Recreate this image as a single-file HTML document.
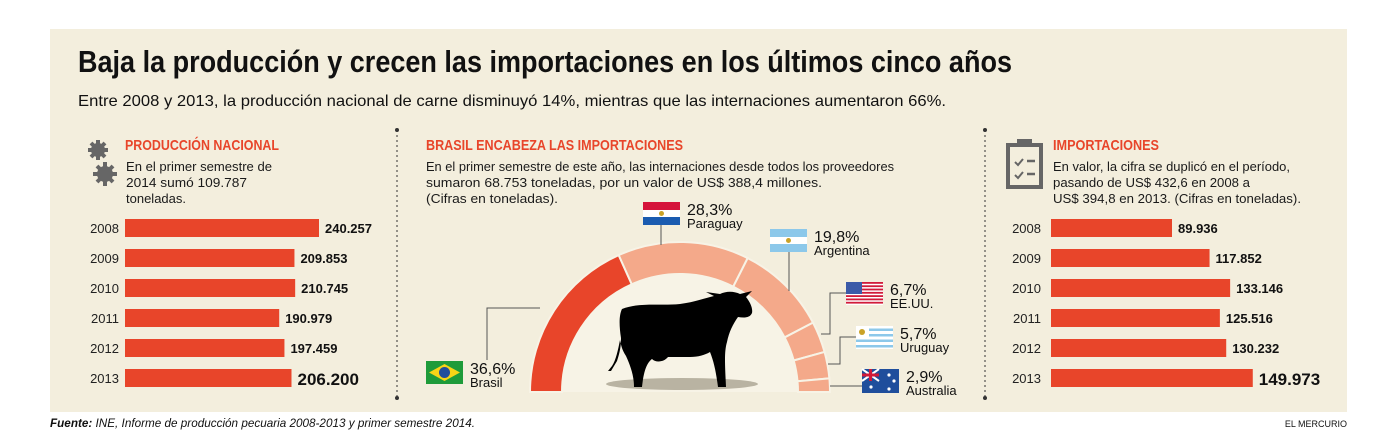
<!DOCTYPE html>
<html><head><meta charset="utf-8">
<style>
html,body{margin:0;padding:0;background:#fff;overflow:hidden;}
svg{display:block;font-family:"Liberation Sans",sans-serif;}
.t{fill:#1a1a1a;}
</style></head>
<body>
<svg id="chart" width="1400" height="444" viewBox="0 0 1400 444" xmlns="http://www.w3.org/2000/svg">
<rect x="50" y="29" width="1297" height="383" fill="#f3eedd"/>
<text x="78" y="72" font-size="31" font-weight="bold" textLength="934" lengthAdjust="spacingAndGlyphs" fill="#111">Baja la producción y crecen las importaciones en los últimos cinco años</text>
<text x="78" y="106" font-size="16" textLength="868" lengthAdjust="spacingAndGlyphs" fill="#111">Entre 2008 y 2013, la producción nacional de carne disminuyó 14%, mientras que las internaciones aumentaron 66%.</text>

<line x1="397" y1="130" x2="397" y2="398" stroke="#333" stroke-dasharray="2,3"/>
<circle cx="397" cy="130" r="2" fill="#333"/><circle cx="397" cy="398" r="2" fill="#333"/>
<line x1="985" y1="130" x2="985" y2="398" stroke="#333" stroke-dasharray="2,3"/>
<circle cx="985" cy="130" r="2" fill="#333"/><circle cx="985" cy="398" r="2" fill="#333"/>

<g fill="#666">
<circle cx="98" cy="150" r="7"/><circle cx="98" cy="150" r="3" fill="#f3eedd"/>
<g stroke="#666" stroke-width="4"><line x1="98" y1="140" x2="98" y2="160"/><line x1="88" y1="150" x2="108" y2="150"/><line x1="91" y1="143" x2="105" y2="157"/><line x1="105" y1="143" x2="91" y2="157"/></g>
<circle cx="105" cy="174" r="8"/><circle cx="105" cy="174" r="3.5" fill="#f3eedd"/>
<g stroke="#666" stroke-width="4"><line x1="105" y1="162" x2="105" y2="186"/><line x1="93" y1="174" x2="117" y2="174"/><line x1="97" y1="166" x2="113" y2="182"/><line x1="113" y1="166" x2="97" y2="182"/></g>
</g>
<text x="125" y="150" font-size="15" font-weight="bold" fill="#e8452a" textLength="154" lengthAdjust="spacingAndGlyphs">PRODUCCIÓN NACIONAL</text>
<g font-size="13" class="t">
<text x="126" y="171" textLength="146" lengthAdjust="spacingAndGlyphs">En el primer semestre de</text>
<text x="126" y="187" textLength="121" lengthAdjust="spacingAndGlyphs">2014 sumó 109.787</text>
<text x="126" y="203">toneladas.</text>
</g>

<text x="426" y="150" font-size="15" font-weight="bold" fill="#e8452a" textLength="257" lengthAdjust="spacingAndGlyphs">BRASIL ENCABEZA LAS IMPORTACIONES</text>
<g font-size="13" class="t">
<text x="426" y="171" textLength="468" lengthAdjust="spacingAndGlyphs">En el primer semestre de este año, las internaciones desde todos los proveedores</text>
<text x="426" y="187" textLength="396" lengthAdjust="spacingAndGlyphs">sumaron 68.753 toneladas, por un valor de US$ 388,4 millones.</text>
<text x="426" y="203" textLength="132" lengthAdjust="spacingAndGlyphs">(Cifras en toneladas).</text>
</g>

<g fill="none" stroke="#666">
<rect x="1008" y="145" width="33" height="42" stroke-width="4"/>
<rect x="1017" y="139" width="15" height="7" fill="#666" stroke="none"/>
<path d="M1015 162 l3 3 l5 -6 M1015 175 l3 3 l5 -6" stroke-width="2"/>
<path d="M1027 161 h8 M1027 174 h8" stroke-width="2.5"/>
</g>
<text x="1053" y="150" font-size="15" font-weight="bold" fill="#e8452a" textLength="106" lengthAdjust="spacingAndGlyphs">IMPORTACIONES</text>
<g font-size="13" class="t">
<text x="1053" y="171" textLength="237" lengthAdjust="spacingAndGlyphs">En valor, la cifra se duplicó en el período,</text>
<text x="1053" y="187" textLength="197" lengthAdjust="spacingAndGlyphs">pasando de US$ 432,6 en 2008 a</text>
<text x="1053" y="203" textLength="248" lengthAdjust="spacingAndGlyphs">US$ 394,8 en 2013. (Cifras en toneladas).</text>
</g>

<g id="leftBars"></g>
<g id="rightBars"></g>

<path d="M562 392 A118 118 0 0 1 798 392 Z" fill="#f7f3e6"/>
<g id="arc"></g>
<ellipse cx="682" cy="384" rx="76" ry="6" fill="#b9b3a2"/>
<path fill="#000" d="M622 309 C640 302 660 306 680 304 C695 302 705 298 714 296 L706 292 L720 294 C726 291 734 291 740 294 L752 291 L746 297 C750 302 753 308 752 313 C750 318 744 318 738 317 C733 324 729 332 727 342 C724 352 725 365 726 387 L718 387 C716 372 714 362 710 352 C705 355 698 357 690 357 L668 357 C664 362 656 363 652 359 C648 362 644 368 642 387 L634 387 C634 375 630 365 626 356 C622 350 621 345 620 340 C618 350 616 360 612 366 L608 371 L611 371 L617 361 C620 352 621 346 621 338 C619 325 619 315 622 309 Z"/>

<g id="labels" font-size="13" class="t"></g>

<text x="50" y="427" font-size="12" font-style="italic" fill="#111" textLength="425" lengthAdjust="spacingAndGlyphs"><tspan font-weight="bold">Fuente:</tspan> INE, Informe de producción pecuaria 2008-2013 y primer semestre 2014.</text>
<text x="1347" y="427" font-size="9" text-anchor="end" fill="#111">EL MERCURIO</text>
</svg>
<script>
const years = ["2008","2009","2010","2011","2012","2013"];
const productionValues = [240257, 209853, 210745, 190979, 197459, 206200];
const productionLabels = ["240.257","209.853","210.745","190.979","197.459","206.200"];
const importValues = [89936, 117852, 133146, 125516, 130232, 149973];
const importLabels = ["89.936","117.852","133.146","125.516","130.232","149.973"];
const countries = ["Brasil","Paraguay","Argentina","EE.UU.","Uruguay","Australia"];
const shares = [36.6, 28.3, 19.8, 6.7, 5.7, 2.9];
const shareLabels = ["36,6%","28,3%","19,8%","6,7%","5,7%","2,9%"];

const NS = "http://www.w3.org/2000/svg";
function mk(tag, attrs, parent){const e=document.createElementNS(NS,tag);for(const k in attrs)e.setAttribute(k,attrs[k]);parent.appendChild(e);return e;}

function drawBars(gid, values, labels, x0, scale, yearX){
  const g=document.getElementById(gid);
  const yPos=i=>219+i*30;
  values.forEach((v,i)=>{
    const w=v*scale, y=yPos(i), last=i===values.length-1;
    const yt=mk('text',{x:yearX,y:y+14,'font-size':13,'text-anchor':'end',fill:'#222'},g);
    yt.textContent=years[i];
    
    
    const r=mk('rect',{x:x0,y:y,width:w,height:18,fill:'#e8452a'},g);
    
    
    const t=mk('text',{x:x0+w+6,y:y+(last?16:14),'font-size':last?17:13,'font-weight':'bold',fill:'#111'},g);
    t.textContent=labels[i];
    
    
  });
}
drawBars('leftBars', productionValues, productionLabels, 125, 194/240257, 119);
drawBars('rightBars', importValues, importLabels, 1051, 121/89936, 1041);

const cx=680, cy=392, R=150, r=118;
const total=shares.reduce((a,b)=>a+b,0);
const arcG=document.getElementById('arc');
let a0=Math.PI;
function pt(rad,a){return [cx+rad*Math.cos(a), cy-rad*Math.sin(a)];}
shares.forEach((s,i)=>{
  const a1=a0-s/total*Math.PI;
  const p1=pt(R,a0),p2=pt(R,a1),p3=pt(r,a1),p4=pt(r,a0);
  const d=`M${p1} A${R},${R} 0 0 1 ${p2} L${p3} A${r},${r} 0 0 0 ${p4} Z`;
  const p=mk('path',{d:d,fill:i===0?'#e8452a':'#f4a98a',stroke:'#f7f3e6','stroke-width':2},arcG);
  
  
  a0=a1;
});

const lg=document.getElementById('labels');
const flagPos=[[426,361],[643,202],[770,229],[846,282],[856,326],[862,369]];
function flag(i,x,y){
  const g=mk('g',{},lg);
  
  
  const w=37,h=23;
  if(i===0){mk('rect',{x,y,width:w,height:h,fill:'#1e9b3a'},g);mk('path',{d:`M${x+18.5} ${y+3} L${x+34} ${y+11.5} L${x+18.5} ${y+20} L${x+3} ${y+11.5}Z`,fill:'#f7d417'},g);mk('circle',{cx:x+18.5,cy:y+11.5,r:5.5,fill:'#1f4e9c'},g);}
  else if(i===1){mk('rect',{x,y,width:w,height:8,fill:'#d5133a'},g);mk('rect',{x,y:y+8,width:w,height:7,fill:'#fff'},g);mk('rect',{x,y:y+15,width:w,height:8,fill:'#1a5bb0'},g);mk('circle',{cx:x+18.5,cy:y+11.5,r:2.5,fill:'#c9a227'},g);}
  else if(i===2){mk('rect',{x,y,width:w,height:h,fill:'#8cc8ea'},g);mk('rect',{x,y:y+8,width:w,height:7,fill:'#fff'},g);mk('circle',{cx:x+18.5,cy:y+11.5,r:2.5,fill:'#c9a227'},g);}
  else if(i===3){mk('rect',{x,y,width:w,height:h,fill:'#fff'},g);for(let k=0;k<7;k++)mk('rect',{x,y:y+k*3.3,width:w,height:1.8,fill:'#d11b3a'},g);mk('rect',{x,y,width:16,height:12,fill:'#3b5aa8'},g);}
  else if(i===4){mk('rect',{x,y,width:w,height:h,fill:'#fff'},g);for(let k=0;k<4;k++)mk('rect',{x,y:y+2.5+k*5.5,width:w,height:2.5,fill:'#8cc8ea'},g);mk('rect',{x,y,width:13,height:12,fill:'#fff'},g);mk('circle',{cx:x+6,cy:y+6,r:3,fill:'#c9a227'},g);}
  else {mk('rect',{x,y,width:w,height:h+1,fill:'#1f4e9c'},g);mk('path',{d:`M${x} ${y} L${x+17} ${y+12} M${x+17} ${y} L${x} ${y+12}`,stroke:'#fff','stroke-width':2},g);mk('path',{d:`M${x+8.5} ${y} V${y+12} M${x} ${y+6} H${x+17}`,stroke:'#d11b3a','stroke-width':3},g);[[9,18],[27,6],[32,12],[27,20]].forEach(s=>mk('circle',{cx:x+s[0],cy:y+s[1],r:1.6,fill:'#fff'},g));}
}
const leaders=["M487 360 V308 H540","M661 225 V245","M789 251 V291","M821 334 H830 V293 H846","M828 364 H840 V337 H856","M830 386 H862"];
shares.forEach((s,i)=>{
  const [fx,fy]=flagPos[i];
  const l=mk('path',{d:leaders[i],fill:'none',stroke:'#555','stroke-width':1},lg);
  
  
  flag(i,fx,fy);
  const t1=mk('text',{x:fx+44,y:fy+13,'font-size':16,fill:'#111'},lg);
  t1.textContent=shareLabels[i];
  
  
  const t2=mk('text',{x:fx+44,y:fy+26,'font-size':13,fill:'#111'},lg);
  t2.textContent=countries[i];
  
  
});
</script>
</body></html>
